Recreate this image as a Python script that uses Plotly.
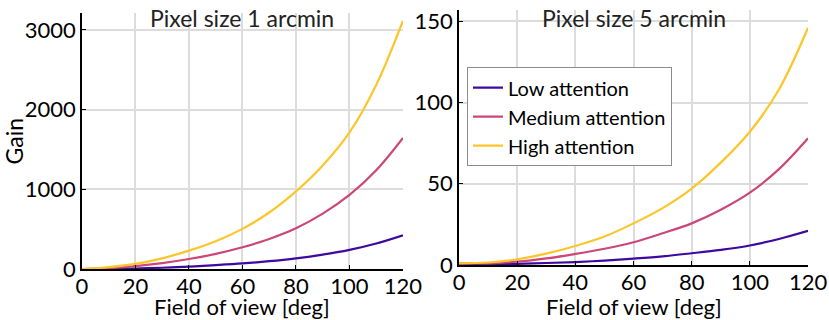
import plotly.graph_objects as go
from plotly.subplots import make_subplots

fov = [0, 10, 20, 30, 40, 50, 60, 70, 80, 90, 100, 110, 120]

# pixel size 1 arcmin
low_1 = [1, 3, 8, 17, 32, 50, 71, 99, 135, 182, 242, 322, 425]
med_1 = [1, 12, 38, 76, 127, 192, 274, 378, 512, 695, 930, 1240, 1645]
high_1 = [1, 25, 65, 135, 232, 350, 505, 710, 975, 1300, 1715, 2310, 3115]

# pixel size 5 arcmin
low_5 = [0.5, 0.5, 0.7, 1.2, 1.8, 2.7, 3.9, 5.3, 7.2, 9.3, 12, 16, 21]
med_5 = [1, 1, 2, 4, 6.8, 10, 14, 19.5, 25.6, 34, 44.5, 59, 78]
high_5 = [1, 1.5, 3.5, 7, 11.7, 17.5, 25.6, 35, 47, 63, 82, 108, 146]

names = ["Low attention", "Medium attention", "High attention"]
colors = ["#3e0a9e", "#cc4778", "#fbc62b"]
titles = ["Pixel size 1 arcmin", "Pixel size 5 arcmin"]
xlabel = "Field of view [deg]"

FONT = "Lato"

fig = make_subplots(rows=1, cols=2)

for i, ys in enumerate([low_1, med_1, high_1]):
    fig.add_trace(go.Scatter(x=fov, y=ys, mode="lines", line_shape="spline",
                             line=dict(color=colors[i], width=2.2),
                             name=names[i], showlegend=False), row=1, col=1)
for i, ys in enumerate([low_5, med_5, high_5]):
    fig.add_trace(go.Scatter(x=fov, y=ys, mode="lines", line_shape="spline",
                             line=dict(color=colors[i], width=2.2),
                             name=names[i]), row=1, col=2)

ax = dict(showgrid=True, gridcolor="#dcdcdc", gridwidth=1.5,
          showline=True, linecolor="black", linewidth=1.5,
          ticks="inside", ticklen=4, tickcolor="black", automargin=False,
          zeroline=False, tickfont=dict(family=FONT, size=22, color="black"))

fig.update_xaxes(**ax, range=[0, 120], tickvals=[0, 20, 40, 60, 80, 100, 120],
                 ticklabelstandoff=-3)
fig.update_yaxes(**ax)

fig.update_layout(
    width=829, height=320,
    margin=dict(l=0, r=0, t=0, b=0),
    plot_bgcolor="white", paper_bgcolor="white",
    font=dict(family=FONT, size=22, color="black"),
    xaxis=dict(domain=[0.0989, 0.4861]),
    xaxis2=dict(domain=[0.5537, 0.9747]),
    yaxis=dict(domain=[0.159, 0.959], range=[0, 3210],
               tickvals=[0, 1000, 2000, 3000],
               title=dict(text="Gain",
                          font=dict(family=FONT, size=23, color="black"))),
    yaxis2=dict(domain=[0.172, 0.969], range=[0, 157],
                tickvals=[0, 50, 100, 150]),
    legend=dict(x=0.5633, y=0.79, xanchor="left", yanchor="top",
                bordercolor="#8c8c8c", borderwidth=1, bgcolor="white",
                font=dict(family=FONT, size=20, color="black"),
                tracegroupgap=0),
)

for k, xr in enumerate(["x", "x2"]):
    fig.add_annotation(text=titles[k], x=60, y=1 - 18 / 320, xref=xr, yref="paper",
                       yanchor="middle", showarrow=False,
                       font=dict(family=FONT, size=23, color="#222222"))
    fig.add_annotation(text=xlabel, x=60, y=1 - 306 / 320, xref=xr, yref="paper",
                       yanchor="middle", showarrow=False,
                       font=dict(family=FONT, size=22, color="black"))

fig.write_html("out.html", config={"displayModeBar": False},
               post_script="document.body.style.margin='0';")
